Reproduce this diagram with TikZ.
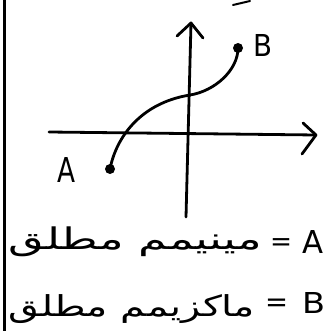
\documentclass[tikz,border=0pt]{standalone}
\usepackage{fontspec}
\setmainfont{DejaVu Sans}
\newfontfamily\arabicfont[Script=Arabic]{DejaVu Sans}
\TeXXeTstate=1
\usepackage{graphicx}
\begin{document}
\begin{tikzpicture}[x=1pt,y=-1pt,
  ink/.style={line width=2.8pt, line cap=round, line join=round, draw=black},
  dotmark/.style={circle, fill=black, inner sep=0pt, minimum size=10pt},
  letter/.style={inner sep=0pt},
  persian/.style={inner sep=0pt, font=\arabicfont}]
\useasboundingbox (0,0) rectangle (326,331);
\fill[white] (0,0) rectangle (326,331);
% left border
\draw[line width=3pt] (4,0) -- (4,331);
% small mark at top
\draw[ink, line width=2pt] (233,5) -- (250,1);
% axes
\coordinate (xl) at (49,132);
\coordinate (xr) at (316,135);
\coordinate (yb) at (186,217);
\coordinate (yt) at (191,23);
\draw[ink] (xl) -- (xr);
\draw[ink] (303,123) -- (xr) -- (302,154);
\draw[ink] (yb) -- (yt);
\draw[ink] (177,36) -- (yt) -- (203,38);
% curve
\node[dotmark] (A) at (110,169) {};
\node[dotmark] (B) at (238,48) {};
\draw[ink] (A.center) .. controls (116,138) and (140,103) .. (190,95)
  .. controls (215,91) and (238,70) .. (B.center);
\node[letter] (la) at (66,170) {\resizebox{18pt}{25pt}{A}};
\node[letter] (lb) at (263,46) {\resizebox{19pt}{22pt}{B}};
% text rows
\node[persian, anchor=west] (t1) at (8,242) {\resizebox*{254pt}{30pt}{\beginR مینیمم مطلق\endR}};
\node[letter] (e1) at (281,245) {\resizebox{22pt}{!}{=}};
\node[letter] (r1) at (312.5,242) {\resizebox{21pt}{23pt}{A}};
\node[persian, anchor=west] (t2) at (8,309) {\resizebox*{247pt}{29pt}{\beginR ماکزیمم مطلق\endR}};
\node[letter] (e2) at (276.5,305) {\resizebox{23pt}{!}{=}};
\node[letter] (r2) at (313.5,302.5) {\resizebox{23pt}{21pt}{B}};
\end{tikzpicture}
\end{document}
